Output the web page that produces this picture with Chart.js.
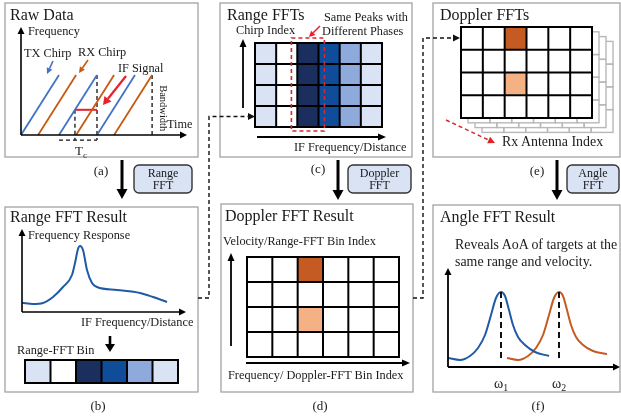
<!DOCTYPE html>
<html><head><meta charset="utf-8">
<script src="https://cdn.jsdelivr.net/npm/chart.js@4/dist/chart.umd.min.js"></script>
<style>
html,body{margin:0;padding:0;background:#fff}
body{width:621px;height:420px;position:relative;overflow:hidden;font-family:"Liberation Serif","Times New Roman",serif;color:#1a1a1a}
canvas{position:absolute;z-index:1}
#ov{position:absolute;left:0;top:0;z-index:5;pointer-events:none}
.t{position:absolute;white-space:nowrap;line-height:1;z-index:10}
.t sub{font-size:0.7em;vertical-align:-0.3em;line-height:0}
</style></head><body>
<svg id="ov" width="621" height="420" xmlns="http://www.w3.org/2000/svg"></svg>
<script>
// ================= DATA =================
// (a) Raw data: TX chirp start times (in units of the chirp duration Tc)
const txChirpStarts = [0, 1, 2];
const rxDelay = 0.45;          // echo round-trip delay
const chirpDuration = 1;
const chirpBandwidth = 1;
const ifLevel = 0.42;          // frequency level where the IF signal is marked
const tcMarkerLevel = -0.085;  // level of the Tc bracket below the time axis

// (b) Range FFT magnitude response
const responseBins = [0, 11, 21, 31, 41, 50, 53, 56, 58, 61, 65, 70, 75, 95, 118, 131, 145];
const responseMag  = [9.3, 8, 9, 15, 25, 37, 49, 63, 66, 62, 42, 29, 25, 22, 19, 15, 10];

// Range-FFT bins (intensity level per bin)
const rangeBinLevels = [1, 0, 4, 3, 2, 1];
const blueShades = ['#ffffff', '#dae3f3', '#8eaadc', '#0f4c9a', '#1b2f5e'];

// (c) Range FFTs over chirps
const chirpCount = 4;
const peakBin = 2;

// (d) Doppler FFT result grid (rows top -> bottom): 0 none, 1 weak, 2 strong
const dopplerGrid = [
  [0, 0, 2, 0, 0, 0],
  [0, 0, 0, 0, 0, 0],
  [0, 0, 1, 0, 0, 0],
  [0, 0, 0, 0, 0, 0]
];
const orangeShades = ['#ffffff', '#f4b183', '#c55a22'];

// (e) number of Rx antennas (stacked Doppler FFT maps)
const rxAntennaCount = 4;

// (f) Angle FFT spectra of two targets
const angleBins1 = [0, 12, 22, 30, 37, 43, 48, 53, 57, 61, 65, 70, 77, 87, 101];
const angleMag1  = [9, 7, 11, 19, 32, 52, 69, 75, 71, 57, 42, 30, 22, 15, 11];
const angleBins2 = [59, 70, 80, 88, 95, 101, 106, 111, 115, 119, 123, 128, 135, 145, 159];
const angleMag2  = [9, 7, 11, 19, 32, 52, 69, 75, 71, 57, 42, 30, 22, 16, 13];
const angleLabels = ['ω<sub>1</sub>', 'ω<sub>2</sub>'];

// ================= HELPERS =================
const BLUE_CHIRP = '#4472c4', ORANGE_CHIRP = '#c55a11', RED = '#e8202a';
const NS = 'http://www.w3.org/2000/svg';
const svg = document.getElementById('ov');
function el(tag, attrs){const e=document.createElementNS(NS,tag);for(const k in attrs)e.setAttribute(k,attrs[k]);svg.appendChild(e);return e;}
function rect(x,y,w,h,stroke,sw,fill,rx){return el('rect',{x,y,width:w,height:h,stroke,'stroke-width':sw,fill:fill||'none',rx:rx||0});}
function pathD(d,stroke,sw,dash){return el('path',{d,stroke,'stroke-width':sw,fill:'none','stroke-dasharray':dash||'none'});}
function arrow(x1,y1,x2,y2,color,sw,hl,hw,dash){
  const a=Math.atan2(y2-y1,x2-x1), bx=x2-hl*Math.cos(a), by=y2-hl*Math.sin(a);
  pathD(`M${x1},${y1}L${bx},${by}`,color,sw,dash);
  const s=Math.sin(a), c=Math.cos(a);
  el('polygon',{points:`${x2},${y2} ${bx+hw*s},${by-hw*c} ${bx-hw*s},${by+hw*c}`,fill:color});
}
function label(html,x,cy,size,opts){
  opts=opts||{};
  const d=document.createElement('div');d.className='t';d.innerHTML=html;
  d.style.fontSize=size+'px';d.style.left=x+'px';d.style.top=(cy-size/2)+'px';
  let tr='';
  if(opts.center)tr+='translateX(-50%) ';
  if(opts.rotate)tr+='rotate('+opts.rotate+'deg)';
  if(tr)d.style.transform=tr;
  if(opts.color)d.style.color=opts.color;
  document.body.appendChild(d);return d;
}
function makeCanvas(left,top,w,h){
  const c=document.createElement('canvas');c.width=w;c.height=h;
  c.style.left=left+'px';c.style.top=top+'px';c.style.width=w+'px';c.style.height=h+'px';
  document.body.appendChild(c);return c;
}
const baseOpts = (padding)=>({animation:false,responsive:false,maintainAspectRatio:false,devicePixelRatio:1,events:[],
  layout:{padding:padding||0},plugins:{legend:{display:false},tooltip:{enabled:false}}});

function lineChart(box, xr, yr, datasets){
  const c=makeCanvas(box[0],box[1],box[2],box[3]);
  const o=baseOpts(0);
  o.scales={x:{type:'linear',display:false,min:xr[0],max:xr[1]},y:{type:'linear',display:false,min:yr[0],max:yr[1]}};
  return new Chart(c,{type:'scatter',data:{datasets:datasets.map(d=>Object.assign({showLine:true,pointRadius:0,clip:false,fill:false},d))},options:o});
}
function seg(points,color,width,dash){return {data:points.map(p=>({x:p[0],y:p[1]})),borderColor:color,borderWidth:width,borderDash:dash||[]};}

// grid of cells (rows top->bottom arrays of colors) drawn as stacked bars, cell lines drawn from the scales
function gridChart(box, padding, rows, plugins){
  const c=makeCanvas(box[0],box[1],box[2],box[3]);
  const nCols=rows[0].length, nRows=rows.length;
  const datasets=rows.slice().reverse().map(r=>({data:r.map(()=>1),backgroundColor:r,borderWidth:0,
    barPercentage:1,categoryPercentage:1,inflateAmount:0.5}));
  const o=baseOpts(padding);
  o.scales={x:{display:false,stacked:true},y:{display:false,stacked:true,min:0,max:nRows}};
  const cellLines={id:'cellLines',afterDatasetsDraw(ch){
    const a=ch.chartArea,ctx=ch.ctx,xs=ch.scales.x,ys=ch.scales.y;
    ctx.save();ctx.strokeStyle='#000';ctx.lineWidth=2;ctx.beginPath();
    for(let i=0;i<=nCols;i++){const x=i===0?a.left:(i===nCols?a.right:(xs.getPixelForValue(i-1)+xs.getPixelForValue(i))/2);
      ctx.moveTo(x,a.top);ctx.lineTo(x,a.bottom);}
    for(let j=0;j<=nRows;j++){const y=ys.getPixelForValue(j);ctx.moveTo(a.left-1,y);ctx.lineTo(a.right+1,y);}
    ctx.stroke();ctx.restore();}};
  return new Chart(c,{type:'bar',data:{labels:rows[0].map((_,i)=>i),datasets},options:o,plugins:[cellLines].concat(plugins||[])});
}

// ================= PANEL FRAMES & DECORATION =================
const FR='#a3a3a3';
rect(5,3,193,154,FR,1.3); rect(5,207,193,185,FR,1.3);
rect(220,3,192,154,FR,1.3); rect(221,204,192,188,FR,1.3);
rect(433,3,187,154,FR,1.3); rect(433,205,187,187,FR,1.3);

// process boxes
rect(134,165,58,28,'#333',1.4,'#dae3f3',5);
rect(348,165,63,28,'#333',1.4,'#dae3f3',5);
rect(567,165,52,28,'#333',1.4,'#dae3f3',5);
// thick down arrows
arrow(122,160,122,199,'#000',3,10,5.5);
arrow(338,160,338,200,'#000',3,10,5.5);
arrow(557,160,557,200,'#000',3,10,5.5);
// axes
arrow(21,135,21,27,'#000',1.6,7,3.5); arrow(21,135,187,135,'#000',1.6,7,3.5);
arrow(22,312,22,229,'#000',1.6,7,3.5); arrow(22,312,186,312,'#000',1.6,7,3.5);
arrow(243,108,243,39,'#000',1.8,8,3.5); arrow(257,137,386,137,'#000',1.8,8,3.5);
arrow(231,346,231,253,'#000',1.8,8,3.5); arrow(246,363,410,363,'#000',1.8,8,3.5);
arrow(448,367,448,268,'#000',1.8,7,3.5); arrow(448,367,620,367,'#000',1.8,7,3.5);
// small arrows
arrow(110,336,110,352,'#000',2.6,8,5);
arrow(53,61,47,74,BLUE_CHIRP,1.6,6,3);
arrow(88,60,79,73,ORANGE_CHIRP,1.6,6,3);
arrow(126,76,103,105,RED,2.2,8,4.5);
arrow(320,26,309,37,RED,1.5,6,3);
arrow(446,120,495,143,'#d9262b',1.5,7,3.5,'4 3');
// dashed connectors
pathD('M198,298H209V116.5H249','#111',1.4,'4 3'); el('polygon',{points:'255,116.5 248,113 248,120',fill:'#111'});
pathD('M413,298H423V38H454','#111',1.4,'4 3'); el('polygon',{points:'460,38 453,34.5 453,41.5',fill:'#111'});

// ================= TEXT =================
const S=12.3;
label('Raw Data',10,15,16);
label('Frequency',28,31,S);
label('TX Chirp',24,53,S);
label('RX Chirp',78,52,S);
label('IF Signal',118,68,S);
label('Time',167,124,S);
label('Bandwidth',140,108,10.5,{rotate:90});
label('T<sub>c</sub>',75,150,13);
label('(a)',101,170,13,{center:true});
label('Range',163,173,12,{center:true}); label('FFT',163,185,12,{center:true});
label('Range FFT Result',10,217,16);
label('Frequency Response',28,235,S);
label('IF Frequency/Distance',81,322,S);
label('Range-FFT Bin',17,350,S);
label('(b)',98,405,13,{center:true});
label('Range FFTs',227,15,16);
label('Chirp Index',236,30,S);
label('Same Peaks with',324,17,S);
label('Different Phases',322,31,S);
label('IF Frequency/Distance',294,147,S);
label('(c)',318,168,13,{center:true});
label('Doppler',379.5,173,12,{center:true}); label('FFT',379.5,185,12,{center:true});
label('Doppler FFT Result',225,216,16);
label('Velocity/Range-FFT Bin Index',223,241,S);
label('Frequency/ Doppler-FFT Bin Index',228,375,S);
label('(d)',320,405,13,{center:true});
label('Doppler FFTs',440,15,16);
label('Rx Antenna Index',502,142,13.9);
label('(e)',537,170,13,{center:true});
label('Angle',593,173,12,{center:true}); label('FFT',593,185,12,{center:true});
label('Angle FFT Result',440,217,16);
label('Reveals AoA of targets at the',455,245,13.9);
label('same range and velocity.',455,262,13.9);
label('(f)',538,405,13,{center:true});

// ================= CHARTS =================
// (a) chirps
(function(){
  const ds=[];
  txChirpStarts.forEach(s=>ds.push(seg([[s,0],[s+chirpDuration,chirpBandwidth]],BLUE_CHIRP,1.8)));
  txChirpStarts.forEach(s=>ds.push(seg([[s+rxDelay,0],[s+rxDelay+chirpDuration,chirpBandwidth]],ORANGE_CHIRP,1.8)));
  const s1=txChirpStarts[1], s2=txChirpStarts[2];
  const ifStart=s1+ifLevel*chirpDuration/chirpBandwidth;
  ds.push(seg([[ifStart,ifLevel],[s2,ifLevel]],RED,2));
  ds.push(seg([[s2,chirpBandwidth],[s2,tcMarkerLevel]],'#111',1.3,[4,3]));
  ds.push(seg([[ifStart,ifLevel],[ifStart,tcMarkerLevel]],'#111',1.3,[4,3]));
  ds.push(seg([[s1,tcMarkerLevel],[s2,tcMarkerLevel]],'#111',1.3,[4,3]));
  const lastRxEnd=txChirpStarts[txChirpStarts.length-1]+rxDelay+chirpDuration;
  ds.push(seg([[lastRxEnd,chirpBandwidth],[lastRxEnd,0]],'#111',1.3,[4,3]));
  lineChart([21,20,166,130],[0,166/38],[-(150-135)/60,(135-20)/60],ds);
})();

// (b) frequency response curve
lineChart([22,228,165,84],[0,165],[0,84],[
  Object.assign(seg(responseBins.map((b,i)=>[b,responseMag[i]]),'#1f5aa6',2),{cubicInterpolationMode:'monotone'})
]);
// Range-FFT bin strip
gridChart([24,359,155,25],1,[rangeBinLevels.map(l=>blueShades[l])],[]);

// (c) range FFTs with dashed peak box
const peakBox={id:'peakBox',afterDatasetsDraw(ch){
  const a=ch.chartArea,ctx=ch.ctx,x=ch.scales.x.getPixelForValue(peakBin);
  const cw=(a.right-a.left)/rangeBinLevels.length, hw=cw*0.78;
  ctx.save();ctx.strokeStyle='#d9262b';ctx.lineWidth=1.6;ctx.setLineDash([4,3]);
  ctx.strokeRect(x-hw,a.top-5,2*hw,a.bottom-a.top+9);ctx.restore();}};
gridChart([250,36,137,97],{left:5,right:5,top:7,bottom:6},
  Array.from({length:chirpCount},()=>rangeBinLevels.map(l=>blueShades[l])),[peakBox]);

// (d) Doppler FFT result
gridChart([245,255,156,104],2,dopplerGrid.map(r=>r.map(v=>orangeShades[v])),[]);

// (e) Doppler FFTs stacked over Rx antennas
const layers={id:'layers',beforeDatasetsDraw(ch){
  const a=ch.chartArea,ctx=ch.ctx,nC=dopplerGrid[0].length,nR=dopplerGrid.length;
  const cw=(a.right-a.left)/nC, rh=(a.bottom-a.top)/nR;
  ctx.save();
  for(let k=rxAntennaCount-1;k>=1;k--){
    const ox=a.left+7*k, oy=a.top+4.8*k;
    ctx.fillStyle='#fff';ctx.fillRect(ox,oy,a.right-a.left,a.bottom-a.top);
    ctx.strokeStyle='#b8b8b8';ctx.lineWidth=1.4;
    for(let r=0;r<nR;r++)for(let c=0;c<nC;c++)ctx.strokeRect(ox+c*cw,oy+r*rh,cw,rh);
  }
  ctx.restore();}};
gridChart([459,25,160,110],{left:2,top:2,right:27,bottom:17},dopplerGrid.map(r=>r.map(v=>orangeShades[v])),[layers]);

// (f) angle spectra
(function(){
  const i1=angleMag1.indexOf(Math.max(...angleMag1)), i2=angleMag2.indexOf(Math.max(...angleMag2));
  const p1=angleBins1[i1], p2=angleBins2[i2];
  lineChart([448,268,171,99],[0,171],[0,99],[
    seg([[p1,angleMag1[i1]],[p1,5]],'#111',2,[6,4]),
    seg([[p2,angleMag2[i2]],[p2,5]],'#111',2,[6,4]),
    Object.assign(seg(angleBins1.map((b,i)=>[b,angleMag1[i]]),'#1f5aa6',2),{cubicInterpolationMode:'monotone'}),
    Object.assign(seg(angleBins2.map((b,i)=>[b,angleMag2[i]]),'#c55a22',2),{cubicInterpolationMode:'monotone'})
  ]);
  label(angleLabels[0],448+p1,384,14,{center:true});
  label(angleLabels[1],448+p2,384,14,{center:true});
})();
</script>
</body></html>
